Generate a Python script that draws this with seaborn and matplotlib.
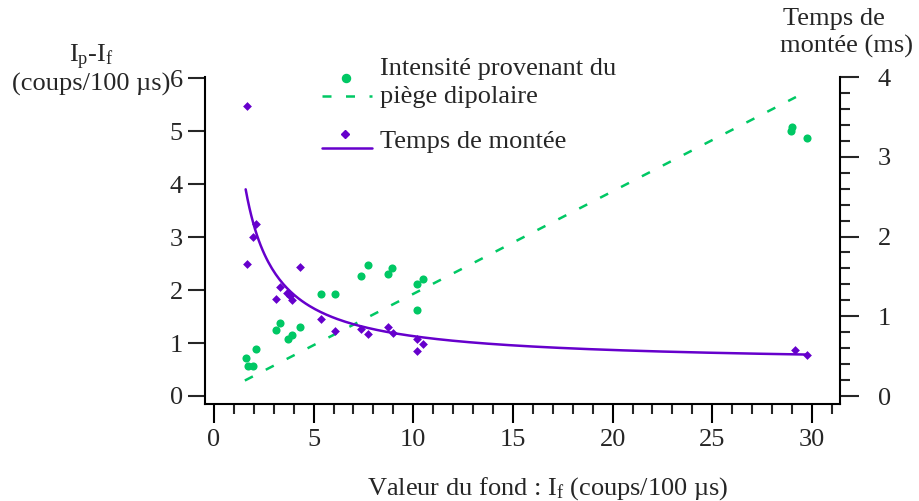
import numpy as np
import pandas as pd
import matplotlib
matplotlib.use("Agg")
import matplotlib.pyplot as plt
from matplotlib.lines import Line2D
from matplotlib.ticker import MultipleLocator, NullLocator
import seaborn as sns

# Background level I_f (coups/100 µs) and dipole-trap intensity I_p - I_f
intensity_bg = [1.59, 1.69, 1.97, 2.09, 3.11, 3.30, 3.71, 3.90, 4.31, 5.35, 6.05,
                7.36, 7.73, 8.71, 8.92, 10.19, 10.47, 10.19, 28.95, 29.00, 29.74]
intensity_val = [0.71, 0.56, 0.56, 0.88, 1.25, 1.37, 1.07, 1.16, 1.30, 1.92, 1.92,
                 2.26, 2.48, 2.30, 2.41, 2.11, 2.20, 1.62, 5.01, 5.07, 4.87]

# Background level I_f and rise time (ms)
rise_bg = [1.64, 1.67, 1.97, 2.09, 3.13, 3.33, 3.68, 3.81, 3.90, 4.30, 5.35,
           6.07, 7.38, 7.74, 8.73, 8.97, 10.19, 10.19, 10.50, 29.15, 29.74]
rise_ms = [3.64, 1.66, 2.00, 2.16, 1.22, 1.37, 1.29, 1.25, 1.20, 1.62, 0.97,
           0.82, 0.84, 0.78, 0.87, 0.79, 0.72, 0.56, 0.65, 0.58, 0.52]

# Fitted models: linear intensity, rise time = a + b / I_f
intensity_fit = (0.1935, -0.008)      # slope, intercept
intensity_fit_range = (1.55, 29.2)
rise_fit = (0.403, 3.48)              # offset a, amplitude b
rise_fit_range = (1.59, 29.75)

GREEN = "#00C864"
PURPLE = "#6600CC"
FS = 19
W, H = 920, 501

sns.set_style("ticks")
plt.rcParams["font.family"] = ["Liberation Serif", "DejaVu Serif"]
plt.rcParams["mathtext.fontset"] = "custom"
plt.rcParams["mathtext.rm"] = "Liberation Serif"
plt.rcParams["mathtext.it"] = "Liberation Serif:italic"
plt.rcParams["axes.linewidth"] = 1.5


def fpos(x, y):
    """Pixel position -> figure fraction."""
    return x / W, 1 - y / H


fig = plt.figure(figsize=(W / 100, H / 100), dpi=100)
fig.patch.set_facecolor("white")
ax = fig.add_axes([205 / W, 97 / H, 635 / W, 327 / H])
ax2 = ax.twinx()

# Data frames for seaborn
df_int = pd.DataFrame({"bg": intensity_bg, "val": intensity_val})
df_rise = pd.DataFrame({"bg": rise_bg, "t": rise_ms})

xi = np.linspace(*intensity_fit_range, 2)
df_int_fit = pd.DataFrame({"bg": xi, "val": intensity_fit[0] * xi + intensity_fit[1]})
xr = np.linspace(*rise_fit_range, 300)
df_rise_fit = pd.DataFrame({"bg": xr, "t": rise_fit[0] + rise_fit[1] / xr})

DASH_LW = 1.8
DASH = (0, (3.6, 5.8))

sns.lineplot(data=df_int_fit, x="bg", y="val", ax=ax, color=GREEN, lw=DASH_LW,
             linestyle="--", estimator=None)
ax.lines[-1].set_linestyle(DASH)
sns.scatterplot(data=df_int, x="bg", y="val", ax=ax, color=GREEN, marker="o",
                s=34, linewidth=0, zorder=3)

sns.lineplot(data=df_rise_fit, x="bg", y="t", ax=ax2, color=PURPLE, lw=1.8,
             estimator=None)
sns.scatterplot(data=df_rise, x="bg", y="t", ax=ax2, color=PURPLE, marker="D",
                s=20, linewidth=0, zorder=3)

# Axis limits
ax.set_xlim(-0.45, 31.41)
ax.set_ylim(-0.151, 6.02)
ax2.set_ylim(-0.1, 4.0)

for a in (ax, ax2):
    a.set_xlabel("")
    a.set_ylabel("")
    a.set_facecolor("none")
    for s in a.spines.values():
        s.set_visible(False)
        s.set_linewidth(1.5)
        s.set_color("black")

ax.spines["left"].set_visible(True)
ax.spines["bottom"].set_visible(True)
ax2.spines["right"].set_visible(True)

# Ticks
ax.xaxis.set_major_locator(MultipleLocator(5))
ax.xaxis.set_minor_locator(MultipleLocator(1))
ax.yaxis.set_major_locator(MultipleLocator(1))
ax.yaxis.set_minor_locator(NullLocator())
ax2.yaxis.set_major_locator(MultipleLocator(1))
ax2.yaxis.set_minor_locator(MultipleLocator(0.2))

ax.tick_params(axis="x", which="major", direction="out", length=14, width=1.5,
               pad=4, labelsize=FS, color="black", top=False)
ax.tick_params(axis="x", which="minor", direction="out", length=7, width=1.5,
               top=False)
ax.tick_params(axis="y", which="major", direction="out", length=12, width=1.5,
               pad=4, labelsize=FS, right=False)
ax2.tick_params(axis="y", which="major", direction="out", length=14, width=1.5,
                pad=13, labelsize=FS, left=False)
ax2.tick_params(axis="y", which="minor", direction="out", length=7, width=1.5,
                left=False)

ax.set_yticks(range(0, 7))
ax2.set_yticks(range(0, 5))
ax.set_xticks(range(0, 31, 5))

# Axis titles
fig.text(*fpos(91, 62), r"I$_\mathrm{p}$-I$_\mathrm{f}$", ha="center",
         va="baseline", fontsize=FS)
fig.text(*fpos(91, 91), "(coups/100 µs)", ha="center", va="baseline", fontsize=FS)
fig.text(*fpos(783, 25), "Temps de", ha="left", va="baseline", fontsize=FS)
fig.text(*fpos(780, 53), "montée (ms)", ha="left", va="baseline", fontsize=FS)
fig.text(*fpos(367, 495), r"Valeur du fond : I$_\mathrm{f}$ (coups/100 µs)",
         ha="left", va="baseline", fontsize=FS)

# Legend
x0, x1 = fpos(322, 0)[0], fpos(372, 0)[0]
fig.add_artist(Line2D([fpos(346, 0)[0]], [fpos(0, 78)[1]], marker="o", ms=5.8,
                      color=GREEN, lw=0, transform=fig.transFigure))
fig.add_artist(Line2D([x0, x1], [fpos(0, 96)[1]] * 2, color=GREEN, lw=DASH_LW,
                      linestyle=DASH, transform=fig.transFigure))
fig.add_artist(Line2D([fpos(345, 0)[0]], [fpos(0, 134)[1]], marker="D", ms=4.3,
                      color=PURPLE, lw=0, transform=fig.transFigure))
fig.add_artist(Line2D([x0, x1], [fpos(0, 148)[1]] * 2, color=PURPLE, lw=1.8,
                      transform=fig.transFigure))
fig.text(*fpos(380, 75), "Intensité provenant du", ha="left", va="baseline", fontsize=FS)
fig.text(*fpos(380, 103), "piège dipolaire", ha="left", va="baseline", fontsize=FS)
fig.text(*fpos(380, 148), "Temps de montée", ha="left", va="baseline", fontsize=FS)

fig.savefig("out.png", dpi=100, facecolor="white")
